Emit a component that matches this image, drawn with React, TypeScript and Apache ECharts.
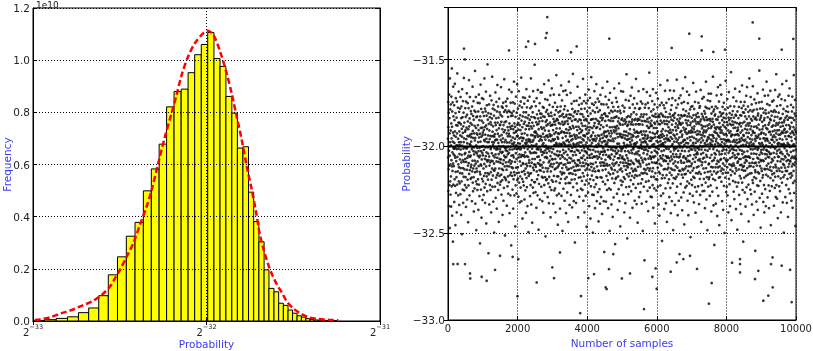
import React, { useEffect, useRef } from 'react';
import * as echarts from 'echarts';

// ---------- Left panel: histogram (x in log2 exponent units, y in units of 1e10) ----------
const histXTicks = [-33, -32, -31];
const histEdges = [
  -33.0, -32.934, -32.866, -32.801, -32.738, -32.679, -32.621, -32.566, -32.513, -32.462,
  -32.412, -32.364, -32.318, -32.273, -32.23, -32.187, -32.146, -32.106, -32.068, -32.03,
  -31.993, -31.957, -31.922, -31.888, -31.854, -31.822, -31.79, -31.758, -31.728, -31.698,
  -31.668, -31.64, -31.611, -31.584, -31.557, -31.53, -31.504, -31.478, -31.453, -31.428,
  -31.404, -31.38, -31.356, -31.333, -31.31, -31.287, -31.265, -31.244,
];
const histCounts = [
  0.002, 0.005, 0.01, 0.016, 0.032, 0.05, 0.097, 0.177, 0.246, 0.325,
  0.378, 0.499, 0.583, 0.678, 0.821, 0.88, 0.889, 0.952, 1.021, 1.06,
  1.106, 1.006, 0.976, 0.861, 0.797, 0.663, 0.668, 0.494, 0.381, 0.304,
  0.196, 0.125, 0.112, 0.068, 0.06, 0.042, 0.03, 0.02, 0.015, 0.009,
  0.006, 0.004, 0.003, 0.002, 0.0015, 0.001, 0.0005,
];
const pdfExp = [
  -32.99, -32.96, -32.902, -32.835, -32.777, -32.71, -32.662, -32.604, -32.556, -32.527,
  -32.499, -32.46, -32.422, -32.383, -32.345, -32.316, -32.278, -32.239, -32.201, -32.172,
  -32.143, -32.105, -32.066, -32.018, -31.994, -31.961, -31.922, -31.884, -31.855, -31.826,
  -31.797, -31.768, -31.739, -31.715, -31.692, -31.669, -31.646, -31.622, -31.594, -31.565,
  -31.536, -31.501, -31.461, -31.415, -31.363, -31.288, -31.24,
];
const pdfVal = [
  0.004, 0.006, 0.014, 0.03, 0.042, 0.061, 0.074, 0.1, 0.132, 0.164,
  0.196, 0.247, 0.298, 0.37, 0.439, 0.503, 0.605, 0.708, 0.797, 0.868,
  0.944, 1.015, 1.066, 1.104, 1.113, 1.098, 1.034, 0.95, 0.873, 0.784,
  0.695, 0.593, 0.503, 0.42, 0.33, 0.27, 0.22, 0.178, 0.14, 0.108,
  0.074, 0.049, 0.03, 0.015, 0.008, 0.004, 0.003,
];

// ---------- Right panel: samples (coarse code c + fine digit f -> value -32 + (10c + f - 504.5) / 420) ----------
const sampleCodes = [
  '52 47 61 39 55 44 50 58 36 49 63 45 41 57 53 30 48 66 51 42 59 46 38 54 60 43 50 35 56 62 47 52 40 69 45 55 33 58 49 44 61 51 27 53 46 64 41 57 50 48',
  '45 53 49 60 37 51 56 42 48 65 54 40 50 47 31 58 44 52 62 39 55 46 50 43 57 34 49 61 53 41 68 47 55 22 50 44 59 52 38 46 56 49 63 42 51 45 58 36 54 48',
  '56 41 50 47 59 44 53 38 62 49 45 55 51 33 57 46 60 42 48 54 29 52 64 43 50 57 40 47 53 61 45 36 55 49 58 43 51 67 46 52 39 56 44 50 48 71 41 54 47 59',
  '48 54 43 57 50 35 61 46 52 40 55 49 63 44 58 37 51 47 53 42 60 56 45 50 32 54 48 41 59 46 52 66 43 55 49 38 57 51 44 62 47 53 18 50 56 42 48 59 45 52',
  '51 46 58 42 53 49 37 55 60 44 50 47 64 41 54 52 39 57 45 49 61 43 56 34 50 48 53 45 59 40 55 47 51 68 44 52 36 58 49 46 62 42 54 50 30 57 45 53 48 41',
  '44 57 50 39 53 46 61 48 55 42 51 58 35 49 54 45 63 41 52 47 56 38 50 60 44 53 27 48 57 43 51 65 46 54 40 49 59 45 52 33 56 47 50 62 42 55 48 37 53 58',
  '53 48 42 56 50 61 45 38 54 49 57 43 52 46 66 40 55 51 47 59 36 53 44 50 58 41 48 63 55 45 31 52 49 57 43 60 47 54 39 51 46 70 44 56 50 42 53 48 58 24',
  '47 55 51 43 60 48 36 54 45 52 57 41 50 62 46 53 39 56 49 44 58 50 34 55 47 61 42 52 48 57 45 67 51 40 54 46 59 43 50 55 37 48 53 60 44 51 57 46 29 52',
  '50 44 59 47 53 40 56 51 45 63 48 38 55 52 42 57 49 61 46 54 35 50 58 43 52 47 65 41 56 49 53 44 60 39 51 46 57 48 32 54 50 62 45 52 43 58 47 55 41 49',
  '55 49 46 58 41 52 47 64 50 43 56 38 53 48 60 45 51 57 42 54 33 49 59 46 52 44 61 50 37 55 47 53 40 58 48 66 43 51 56 45 50 28 54 47 59 42 52 49 61 46',
  '42 56 50 47 60 44 53 36 51 58 45 49 62 40 55 48 52 43 57 50 39 54 46 59 41 53 48 64 45 51 56 34 49 47 58 43 52 55 38 50 61 46 54 44 57 26 51 48 63 45',
  '58 46 51 43 55 49 40 57 52 45 61 48 35 54 50 42 59 47 53 66 44 51 38 56 49 60 43 52 46 55 31 50 57 41 53 48 62 45 50 54 39 47 58 44 52 49 65 42 55 14',
  '49 53 45 59 42 51 56 38 54 47 63 44 50 57 41 52 48 60 36 55 46 51 58 43 49 54 40 61 47 52 45 67 50 37 56 48 53 44 59 42 51 55 33 48 57 46 52 62 41 50',
  '46 52 58 41 55 48 44 60 50 37 53 47 56 43 62 49 51 39 57 45 54 50 34 58 46 52 64 42 55 48 40 59 51 45 53 36 57 49 61 44 50 47 55 29 52 58 43 51 46 56',
  '54 47 50 62 43 56 49 38 52 45 59 51 41 55 48 66 44 53 36 57 50 46 60 42 54 49 32 56 47 51 58 40 53 45 63 48 52 39 55 50 44 57 46 61 41 53 49 70 47 52',
  '41 57 52 46 54 39 50 60 45 53 48 56 35 51 62 44 49 58 42 55 47 53 38 50 64 46 52 57 43 49 55 30 54 48 59 41 51 46 56 44 60 50 37 53 47 58 45 52 63 49',
  '57 44 49 55 40 52 58 46 51 63 43 54 48 37 56 50 45 60 42 53 49 57 34 51 46 59 44 55 48 65 41 52 50 39 57 47 54 43 61 49 52 28 56 45 50 58 42 53 47 55',
  '50 48 56 42 59 47 53 44 61 38 52 49 55 45 58 41 50 66 46 54 36 51 57 43 49 60 47 53 40 56 45 52 62 48 33 55 50 44 58 46 51 39 57 53 42 64 49 47 55 21',
  '45 55 47 52 60 41 54 49 36 57 51 46 63 43 50 56 39 53 48 58 44 52 61 40 55 47 50 34 56 45 53 59 42 51 67 48 54 46 38 57 50 43 60 49 52 45 56 31 53 48',
  '52 43 58 50 45 56 39 53 48 62 46 51 57 41 54 49 35 59 47 55 44 60 50 42 53 65 46 51 38 57 48 54 43 61 50 45 56 30 52 47 58 44 55 49 63 40 51 46 57 53',
  '48 59 44 51 55 37 53 47 60 42 56 50 46 64 41 52 49 57 34 54 45 51 58 43 50 62 47 53 39 56 48 44 59 52 46 55 32 50 57 41 54 49 66 45 51 43 58 47 36 53',
  '55 46 52 41 57 50 63 44 49 54 38 58 47 51 45 60 42 53 49 56 35 50 59 46 52 43 55 68 48 40 57 51 45 54 37 50 61 47 53 44 58 49 42 56 27 52 46 59 50 44',
  '43 52 57 48 36 55 50 45 61 53 41 49 58 46 54 39 51 64 44 56 47 52 33 59 49 45 55 42 50 60 47 53 38 57 51 44 62 48 54 46 10 52 58 43 50 56 40 53 47 59',
  '51 56 45 60 49 42 54 47 58 39 52 55 44 50 66 46 53 37 57 48 51 43 61 50 45 56 34 53 49 59 41 52 47 55 63 44 50 38 57 46 54 49 60 42 51 31 56 48 53 45',
  '58 47 50 43 55 61 46 52 39 57 49 45 53 64 41 56 50 36 54 48 59 44 51 47 62 42 55 49 33 58 46 52 40 56 50 67 45 53 48 57 43 51 60 38 54 47 52 44 59 29',
  '46 53 49 57 42 51 38 60 48 55 45 52 63 40 56 50 47 58 35 53 44 61 49 51 46 57 41 54 50 65 43 52 48 37 59 45 55 50 42 56 47 62 39 53 49 58 44 51 32 55',
  '50 44 61 47 53 56 40 51 48 59 36 54 46 52 62 43 57 49 45 55 38 50 60 47 53 42 58 51 34 56 46 49 64 44 52 57 41 50 48 55 45 60 37 53 51 46 58 24 54 49',
  '53 49 45 58 51 41 56 47 62 44 50 54 37 57 48 52 43 60 46 55 50 39 53 66 45 51 57 42 49 54 35 59 47 52 44 56 50 61 40 53 48 58 45 51 30 55 47 63 43 50',
  '47 56 52 40 54 49 59 45 51 36 57 48 53 44 61 50 42 55 46 58 33 52 49 56 43 60 47 51 38 54 45 57 50 64 41 53 48 55 44 59 49 26 52 46 57 42 54 50 62 48',
  '54 42 50 57 46 53 61 39 55 48 51 44 58 35 52 47 56 43 60 49 54 40 57 45 51 65 47 53 37 56 50 44 59 48 52 31 55 46 58 42 50 53 63 45 49 56 41 52 47 18',
  '49 57 44 52 48 60 41 55 50 46 63 38 53 47 56 43 51 58 45 54 34 50 59 47 52 42 57 49 55 36 53 46 61 44 50 56 40 54 48 67 45 52 57 43 50 28 55 47 53 46',
  '52 45 55 49 38 57 47 53 43 61 50 46 56 40 52 48 59 44 54 33 51 57 46 53 62 42 50 55 47 39 58 49 52 45 56 64 43 51 48 57 35 53 46 60 50 44 55 41 52 49',
  '44 58 51 46 54 62 42 50 56 37 53 48 59 45 51 43 57 50 40 55 47 66 44 52 49 58 36 54 46 51 60 43 53 48 56 32 50 45 57 52 41 55 49 63 46 53 47 38 59 50',
  '56 48 43 55 50 59 46 52 39 57 45 53 61 41 50 54 47 58 44 51 36 56 49 53 42 60 47 55 50 30 52 46 57 43 64 51 48 54 40 58 45 52 49 56 22 53 47 59 44 51',
  '50 53 47 60 44 51 56 41 54 49 37 58 46 52 63 43 55 48 50 57 39 53 45 61 49 52 34 56 47 54 42 59 50 46 55 68 44 51 57 40 53 48 62 45 50 56 38 52 47 55',
  '47 51 58 43 56 49 52 38 55 46 61 44 50 57 41 53 48 64 45 52 35 59 50 47 54 43 57 51 40 56 46 60 49 53 31 55 48 52 44 58 50 42 57 46 63 39 54 49 51 16',
  '53 46 50 56 42 59 48 54 45 62 40 52 57 47 51 36 55 49 58 44 53 50 33 57 46 52 60 43 55 48 65 41 51 56 47 53 38 58 50 45 54 49 61 42 52 27 56 47 53 50',
  '58 43 54 48 51 39 57 50 46 60 44 53 49 56 35 52 47 59 42 55 50 63 45 51 57 40 54 48 36 58 46 52 49 61 43 56 50 32 53 47 55 44 66 51 48 57 41 52 46 54',
  '45 55 49 52 61 42 56 47 38 53 50 58 44 51 64 46 54 40 57 49 52 34 59 45 53 48 56 43 60 50 37 55 47 52 62 44 51 57 41 54 48 30 56 46 53 58 42 50 63 49',
  '51 47 57 44 53 50 36 58 46 55 42 61 49 52 45 56 39 54 48 59 43 51 66 47 53 40 57 50 45 55 33 52 60 46 54 49 43 58 51 37 56 47 62 44 52 55 24 50 48 57',
  '56 50 44 53 48 62 41 55 47 51 58 38 54 46 60 43 52 49 57 35 53 45 56 50 64 42 51 47 59 44 55 39 52 48 61 46 57 31 50 54 43 58 49 52 45 67 40 53 47 56',
  '43 54 59 47 51 45 56 40 53 50 63 46 57 42 52 37 55 48 60 44 51 56 33 53 47 58 49 45 54 62 41 50 57 46 52 39 59 48 55 44 51 28 56 49 53 45 60 42 54 50',
  '50 57 46 52 41 55 49 60 44 53 38 56 47 51 65 43 58 50 45 54 36 52 59 48 55 42 50 57 46 61 40 53 49 56 34 51 47 58 44 63 52 48 55 39 57 45 53 20 50 49',
  '54 48 51 58 43 56 47 40 53 61 45 50 57 49 36 55 44 52 59 47 54 42 60 50 38 56 46 53 64 43 51 57 48 32 55 49 52 45 58 41 54 50 62 46 53 39 57 47 51 55',
  '48 53 45 57 50 62 42 54 47 59 39 52 56 44 51 35 58 49 55 46 60 41 53 50 66 45 57 48 37 54 51 43 59 47 56 52 30 55 49 61 44 52 57 40 50 54 46 63 42 12',
  '52 46 59 43 55 49 53 38 57 47 61 44 51 56 41 50 54 63 45 52 34 58 48 55 43 60 50 46 53 39 57 51 45 56 67 42 53 49 58 36 52 47 55 44 59 50 26 54 48 57',
  '47 55 50 42 58 53 45 60 48 36 54 51 57 43 52 46 62 40 55 49 53 33 59 47 56 44 51 64 45 53 38 57 50 46 55 42 61 49 52 31 56 48 54 45 58 43 50 65 47 53',
  '55 44 52 57 47 50 63 41 54 48 58 45 51 37 56 49 53 60 43 50 55 46 35 58 52 44 57 49 61 40 53 47 56 51 29 55 45 59 48 52 42 57 50 66 44 53 47 54 39 51',
  '49 58 46 53 40 56 50 45 61 52 38 55 47 59 44 51 54 34 57 48 52 63 42 50 56 46 53 41 58 49 55 36 51 47 60 44 54 50 57 43 68 52 46 55 32 53 49 58 45 22',
  '53 47 56 44 51 59 48 42 55 50 62 46 54 39 57 49 52 45 60 37 53 48 56 43 51 64 47 55 41 58 50 45 53 35 57 49 61 44 52 47 56 40 54 51 30 58 46 53 48 55',
  '46 54 50 41 57 48 53 44 60 51 38 55 47 52 63 43 49 56 45 58 36 51 53 47 61 42 55 50 34 57 46 52 59 44 49 65 41 54 48 56 39 52 45 58 50 27 53 47 60 44',
  '53 45 58 49 42 56 51 61 46 39 54 48 57 44 52 35 59 50 47 55 43 62 48 53 40 57 46 51 64 45 54 49 37 56 52 43 60 47 50 58 41 55 32 53 48 57 45 51 66 46',
  '50 56 43 52 47 59 40 54 49 62 45 51 57 38 55 48 53 44 60 50 36 56 46 52 58 42 49 54 65 41 53 47 57 45 51 33 59 48 55 43 50 61 46 53 39 57 49 52 44 25',
  '44 51 57 46 53 60 42 55 48 37 56 50 45 59 52 41 54 47 63 49 35 57 44 52 58 47 50 40 55 53 46 61 43 51 68 48 54 38 56 45 52 59 42 50 47 30 57 53 49 46',
  '57 49 45 53 61 44 51 39 56 48 54 42 59 47 50 64 43 55 37 52 49 58 46 53 41 56 50 34 57 45 52 62 48 44 55 40 51 59 47 53 36 58 50 43 54 49 66 45 52 48',
  '49 52 60 45 54 38 57 47 51 43 62 50 46 55 41 58 49 35 53 47 56 44 60 51 39 54 48 57 45 63 42 50 56 31 53 48 59 46 52 44 57 40 55 50 47 61 43 52 23 54',
  '52 47 55 42 58 50 45 61 48 53 36 56 44 51 59 47 54 40 57 49 64 43 52 46 55 38 58 50 45 53 67 41 56 48 52 44 60 37 54 49 57 46 51 33 55 48 62 43 50 53',
  '45 58 51 47 54 40 56 49 63 44 52 57 39 53 48 60 46 55 42 51 34 57 49 53 45 61 47 50 56 41 54 65 44 52 48 58 36 55 50 46 53 43 59 47 51 29 56 45 54 50',
  '56 43 50 54 48 61 45 52 38 57 47 53 44 59 50 41 55 66 46 52 49 36 57 44 54 48 60 42 51 56 47 33 58 50 45 53 62 40 55 48 52 46 57 43 50 64 47 54 39 20',
  '50 55 46 53 42 57 49 60 44 52 47 37 56 51 45 58 43 54 62 48 50 35 57 46 53 41 59 49 55 44 51 67 47 53 39 56 50 45 58 42 54 48 61 46 52 31 57 49 53 47',
];
const sampleFine = [
  '38271956040813672950418362790514836279051648392705',
  '71940385261907453812697045836219507483612970548316',
  '25836019472859361047283965017428396150748293651047',
  '94061837250938162704958316207495831620749358162047',
  '60395827143097256813409725681340972568134097251683',
  '47193802655913470268841935027764190358827341609527',
  '83025917468302951746830294175683092417658309241756',
  '19576043825147609382315706498213570964831205749368',
  '06384729155061937284409517362850193746285019374628',
  '72519038464829105736918247053619482705361948270536',
  '35092861477308159264037185926403718592640371859264',
  '58134709621346950871246098537214609853721460985372',
  '90467213588102745396810274539681027453968102745396',
  '24709358166947203851694720385169472038516947203851',
  '61358924077513890246751389024675138902467513890246',
  '83901462579360148257936014825793601482579360148257',
  '46217830951742683095174268309517426830951742683095',
  '09853614727981350462798135046279813504627981350462',
  '57320948619203748561920374856192037485619203748561',
  '32768105493176824059317682405931768240593176824059',
  '84019375264810592736481059273648105927364810592736',
  '15962840377159284036715928403671592840367159284036',
  '63048297515630482975163048297516304829751630482975',
  '40785136292407851362924078513629240785136292407851',
  '97251604388972516043889725160438897251604388972516',
  '28613975041286139750412861397504128613975041286139',
  '75390418626753904186267539041862675390418626753904',
  '01847362599018473625990184736259901847362599018473',
  '56902713843569027138435690271384356902713843569027',
  '39176520481391765204813917652048139176520481391765',
  '82460397157824603971578246039715782460397157824603',
  '14739806256147398062561473980625614739806256147398',
  '67025194838670251948386702519483867025194838670251',
  '93581720466935817204669358172046693581720466935817',
  '20368459171203684591712036845917120368459171203684',
  '48917032564489170325644891703256448917032564489170',
  '76254981307762549813077625498130776254981307762549',
  '05632178949056321789490563217894905632178949056321',
  '31809546273318095462733180954627331809546273318095',
  '69470235816694702358166947023581669470235816694702',
  '12596847030125968470301259684703012596847030125968',
  '87043619527870436195278704361952787043619527870436',
  '54381072695543810726955438107269554381072695543810',
  '26759318406267593184062675931840626759318406267593',
  '98125463707981254637079812546370798125463707981254',
  '43608925174436089251744360892517443608925174436089',
  '70932841566709328415667093284156670932841566709328',
  '15284709363152847093631528470936315284709363152847',
  '62817354906628173549066281735490662817354906628173',
  '39546081723395460817233954608172339546081723395460',
  '84273619057842736190578427361905784273619057842736',
  '07619482537076194825370761948253707619482537076194',
  '51937206847519372068475193720684751937206847519372',
  '28450973619284509736192845097361928450973619284509',
  '96182530476961825304769618253047696182530476961825',
  '43706159828437061598284370615982843706159828437061',
  '70528346911705283469117052834691170528346911705283',
  '16394827053163948270531639482705316394827053163948',
  '85071639248850716392488507163924885071639248850716',
  '32869415076328694150763286941507632869415076328694',
];
const upperOutliers = [
  [460, -31.437], [2853, -31.255], [2836, -31.347], [2807, -31.375], [2307, -31.395], [2500, -31.41],
  [1753, -31.447], [4635, -31.379], [3698, -31.424], [3152, -31.447], [6934, -31.351], [7290, -31.366],
  [8756, -31.286], [8945, -31.379], [6428, -31.433], [7290, -31.447], [9589, -31.443], [9922, -31.381],
  [7960, -31.443], [7624, -31.456], [3534, -31.458], [2241, -31.427],
];
const lowerOutliers = [
  [153, -32.678], [489, -32.678], [632, -32.732], [968, -32.751], [1111, -32.774], [1351, -32.711],
  [2548, -32.784], [3046, -32.759], [3822, -32.862], [4032, -32.759], [4195, -32.736], [4531, -32.812],
  [4560, -32.822], [4626, -32.707], [5230, -32.732], [5632, -32.937], [5871, -32.751], [5967, -32.703],
  [6399, -32.722], [7577, -32.787], [8391, -32.726], [8822, -32.764], [8917, -32.717], [9061, -32.889],
  [9204, -32.86], [9330, -32.812], [9876, -32.897], [9282, -32.678], [9589, -32.687], [8391, -32.678],
  [8391, -32.649], [6572, -32.668], [6954, -32.63], [6762, -32.649], [4750, -32.621], [3218, -32.611],
  [1494, -32.63], [1858, -32.636], [2021, -32.649],
];
const meanValue = -32.0;
const sampleXTicks = [0, 2000, 4000, 6000, 8000, 10000];

const FONT = 'DejaVu Sans';
const LABEL = '#222';
const NAME = '#3b3bf0';

export default function App() {
  const ref = useRef<HTMLDivElement>(null);
  useEffect(() => {
    if (!ref.current) return;
    const chart = echarts.init(ref.current, null, { renderer: 'svg' });

    const bandY: number[] = [];
    sampleCodes.forEach((line, li) => {
      const fine = sampleFine[li] || '';
      line.trim().split(/\s+/).forEach((s, j) => {
        const f = Number(fine.charAt(j)) || 0;
        bandY.push(-32 + (Number(s) * 10 + f - 504.5) / 420);
      });
    });
    const bandPoints = bandY.map((y, i) => [i * (10000 / bandY.length), y]);
    const histData = histCounts.map((c, i) => [histEdges[i], histEdges[i + 1], c]);
    const pdfData = pdfExp.map((e, i) => [e, pdfVal[i]]);

    const gridLine = { show: true, lineStyle: { color: '#000', type: [1, 2] as any, width: 1 } };
    const axisLine = { show: true, lineStyle: { color: '#000', width: 1 } };
    const tick = { show: true, inside: true, length: 4, lineStyle: { color: '#000' } };
    const minus = (v: number, d: number) => v.toFixed(d).replace('-', '\u2212');
    const nameStyle = { color: NAME, fontSize: 10.5, fontFamily: FONT };

    const option: any = {
      animation: false,
      textStyle: { fontFamily: FONT },
      grid: [
        { left: 33, top: 8, width: 347, height: 313, show: true, borderColor: '#000', borderWidth: 1, containLabel: false, outerBoundsMode: 'none' },
        { left: 448, top: 7.5, width: 348, height: 312.5, show: true, borderColor: '#000', borderWidth: 1, containLabel: false, outerBoundsMode: 'none' },
      ],
      xAxis: [
        {
          type: 'value', gridIndex: 0, min: histXTicks[0], max: histXTicks[histXTicks.length - 1], interval: 1,
          position: 'bottom', z: 3, axisLine, axisTick: tick, splitLine: gridLine,
          name: 'Probability', nameLocation: 'middle', nameGap: 17, nameMoveOverlap: false,
          nameTextStyle: nameStyle,
          axisLabel: {
            margin: 2,
            formatter: (v: number) => `{b|2}{s|${String(v).replace('-', '\u2212')}}`,
            rich: {
              b: { fontSize: 10, lineHeight: 14, verticalAlign: 'bottom', color: LABEL, fontFamily: FONT },
              s: { fontSize: 6.5, lineHeight: 8, verticalAlign: 'top', color: LABEL, fontFamily: FONT },
            },
          },
        },
        {
          type: 'value', gridIndex: 0, min: -33, max: -31, interval: 1, position: 'top',
          axisLine, axisTick: tick, axisLabel: { show: false }, splitLine: { show: false },
        },
        {
          type: 'value', gridIndex: 1, min: sampleXTicks[0], max: sampleXTicks[sampleXTicks.length - 1], interval: 2000,
          position: 'bottom', z: 3, axisLine, axisTick: tick, splitLine: gridLine,
          name: 'Number of samples', nameLocation: 'middle', nameGap: 17, nameMoveOverlap: false,
          nameTextStyle: nameStyle,
          axisLabel: { color: LABEL, fontSize: 10, margin: 3, fontFamily: FONT, formatter: (v: number) => String(v) },
        },
        {
          type: 'value', gridIndex: 1, min: 0, max: 10000, interval: 2000, position: 'top',
          axisLine, axisTick: tick, axisLabel: { show: false }, splitLine: { show: false },
        },
      ],
      yAxis: [
        {
          type: 'value', gridIndex: 0, min: 0, max: 1.2, interval: 0.2, position: 'left', z: 3,
          axisLine, axisTick: tick, splitLine: gridLine,
          name: 'Frequency', nameLocation: 'middle', nameGap: 21, nameMoveOverlap: false,
          nameTextStyle: nameStyle,
          axisLabel: { color: LABEL, fontSize: 10.5, margin: 3, fontFamily: FONT, formatter: (v: number) => v.toFixed(1) },
        },
        {
          type: 'value', gridIndex: 0, min: 0, max: 1.2, interval: 0.2, position: 'right',
          axisLine, axisTick: tick, axisLabel: { show: false }, splitLine: { show: false },
        },
        {
          type: 'value', gridIndex: 1, min: -33, max: -31.2, interval: 0.5, position: 'left', z: 3,
          axisLine, axisTick: tick, splitLine: gridLine,
          name: 'Probability', nameLocation: 'middle', nameGap: 37, nameMoveOverlap: false,
          nameTextStyle: nameStyle,
          axisLabel: {
            color: LABEL, fontSize: 10.5, margin: 3, fontFamily: FONT,
            formatter: (v: number) => (Math.abs(v * 2 - Math.round(v * 2)) < 1e-6 ? minus(v, 1) : ''),
          },
        },
        {
          type: 'value', gridIndex: 1, min: -33, max: -31.2, interval: 0.5, position: 'right',
          axisLine, axisTick: tick, axisLabel: { show: false }, splitLine: { show: false },
        },
      ],
      graphic: [
        { type: 'text', left: 36, top: 0, style: { text: '1e10', fontSize: 9, fill: LABEL, fontFamily: FONT } },
      ],
      series: [
        {
          type: 'custom', xAxisIndex: 0, yAxisIndex: 0, z: 1, clip: true,
          data: histData,
          encode: { x: [0, 1], y: 2 },
          renderItem: (params: any, api: any) => {
            const p0 = api.coord([api.value(0), api.value(2)]);
            const p1 = api.coord([api.value(1), 0]);
            return {
              type: 'rect',
              shape: { x: p0[0], y: p0[1], width: p1[0] - p0[0], height: p1[1] - p0[1] },
              style: { fill: '#ffff00', stroke: '#000', lineWidth: 1 },
            };
          },
        },
        {
          type: 'line', xAxisIndex: 0, yAxisIndex: 0, z: 4, data: pdfData, smooth: 0.3,
          showSymbol: false, symbol: 'none',
          lineStyle: { color: '#ff0000', width: 2.5, type: [6, 3] },
        },
        {
          type: 'scatter', xAxisIndex: 2, yAxisIndex: 2, z: 1, symbolSize: 2.7, large: false,
          data: bandPoints.concat(upperOutliers, lowerOutliers),
          itemStyle: { color: '#111', opacity: 0.85 },
        },
        {
          type: 'line', xAxisIndex: 2, yAxisIndex: 2, z: 4, symbol: 'none',
          data: [[0, meanValue], [10000, meanValue]],
          lineStyle: { color: '#000', width: 2 },
        },
      ],
    };
    chart.setOption(option);
    return () => chart.dispose();
  }, []);
  return <div ref={ref} style={{ position: 'fixed', left: 0, top: 0, width: 813, height: 351 }} />;
}
